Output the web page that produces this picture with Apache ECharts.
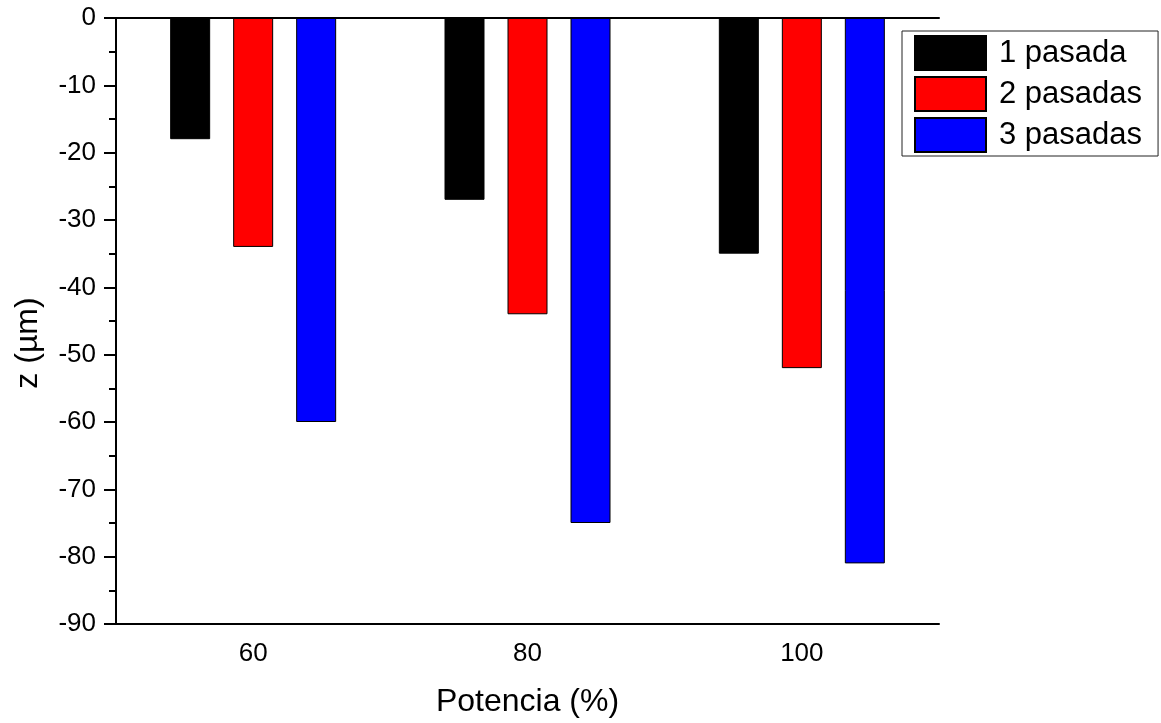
<!DOCTYPE html>
<html>
<head>
<meta charset="utf-8">
<title>Profundidad z vs potencia</title>
<script src="https://cdn.jsdelivr.net/npm/echarts@6/dist/echarts.min.js"></script>
<style>
  html, body { margin: 0; padding: 0; background: #fff; }
  #chart { width: 1161px; height: 723px; }
</style>
</head>
<body>
<div id="chart"></div>
<script>
// Potencia del láser (%) y profundidad medida z (µm) por número de pasadas
const potencia = ['60', '80', '100'];
const pasada1 = [-18, -27, -35];
const pasada2 = [-34, -44, -52];
const pasada3 = [-60, -75, -81];
const seriesNames = ['1 pasada', '2 pasadas', '3 pasadas'];
const seriesColors = ['#000000', '#ff0000', '#0000ff'];

const FONT = '"Liberation Sans", Arial, sans-serif';
const chart = echarts.init(document.getElementById('chart'), null, { renderer: 'canvas' });

const values = [pasada1, pasada2, pasada3];
const series = values.map((vals, i) => ({
  name: seriesNames[i],
  type: 'bar',
  xAxisIndex: 0,
  data: vals,
  barWidth: 40,
  barGap: '57.5%',
  itemStyle: { color: seriesColors[i], borderColor: '#000', borderWidth: 1 },
  emphasis: { disabled: true }
}));

chart.setOption({
  animation: false,
  backgroundColor: '#fff',
  textStyle: { fontFamily: FONT, color: '#000' },
  grid: { left: 116, right: 222, top: 18, bottom: 98 },
  legend: {
    orient: 'vertical',
    left: 902,
    top: 31,
    itemWidth: 71,
    itemHeight: 34,
    itemGap: 5,
    padding: [4, 16, 3, 12],
    borderColor: '#222',
    borderWidth: 1,
    icon: 'rect',
    textStyle: { fontFamily: FONT, fontSize: 31, color: '#000', lineHeight: 34, padding: [0, 0, 0, 8] },
    data: seriesNames
  },
  xAxis: [
    {
      type: 'category',
      data: potencia,
      position: 'bottom',
      boundaryGap: true,
      name: 'Potencia (%)',
      nameLocation: 'middle',
      nameGap: 62,
      nameTextStyle: { fontFamily: FONT, fontSize: 32, color: '#000' },
      axisLine: { onZero: false, lineStyle: { color: '#000', width: 2 } },
      axisTick: { alignWithLabel: true, length: 12, lineStyle: { color: '#000', width: 2 } },
      axisLabel: { fontFamily: FONT, fontSize: 26, color: '#000', margin: 17 },
      splitLine: { show: false }
    },
    {
      type: 'category',
      data: potencia,
      position: 'top',
      boundaryGap: true,
      axisLine: { onZero: false, lineStyle: { color: '#000', width: 2 } },
      axisTick: { show: false },
      axisLabel: { show: false },
      splitLine: { show: false }
    }
  ],
  yAxis: {
    type: 'value',
    min: -90,
    max: 0,
    interval: 10,
    name: 'z (µm)',
    nameLocation: 'middle',
    nameGap: 72,
    nameTextStyle: { fontFamily: FONT, fontSize: 32, color: '#000', padding: [0, 44, 0, 0] },
    axisLine: { show: true, lineStyle: { color: '#000', width: 2 } },
    axisTick: { show: true, length: 12, lineStyle: { color: '#000', width: 2 } },
    minorTick: { show: true, splitNumber: 2, length: 7, lineStyle: { color: '#000', width: 2 } },
    axisLabel: { fontFamily: FONT, fontSize: 26, color: '#000', margin: 20 },
    splitLine: { show: false },
    minorSplitLine: { show: false }
  },
  series: series
});
</script>
</body>
</html>
